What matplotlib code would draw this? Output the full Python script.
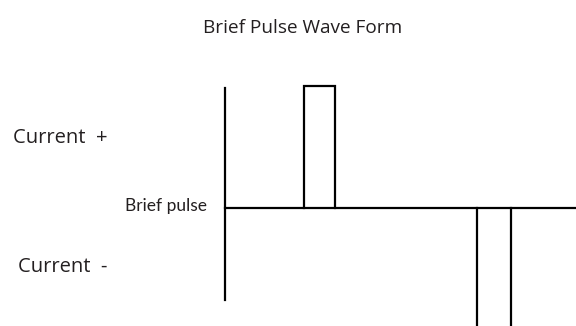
import matplotlib
matplotlib.use("Agg")
import matplotlib.pyplot as plt

plt.rcParams['font.family'] = ['Open Sans', 'DejaVu Sans']

# waveform: baseline with one positive and one negative brief pulse
pulse_starts = [2.47, 7.88]
pulse_widths = [0.97, 1.06]
pulse_levels = [1.0, -1.0]
baseline = 0.0
t_end = 11.0

fig = plt.figure(figsize=(5.76, 3.26), dpi=100)
ax = fig.add_axes([0, 0, 1, 1])
ax.set_xlim(-7.03, 10.97)
ax.set_ylim(-0.967, 1.705)
ax.axis('off')

ink = '#231f20'
# baseline runs straight through the pulses
ax.plot([0, t_end], [baseline, baseline], color='black', lw=1.6)
for s, w, lv in zip(pulse_starts, pulse_widths, pulse_levels):
    ax.plot([s, s, s + w, s + w], [baseline, lv, lv, baseline],
            color='black', lw=1.6, solid_joinstyle='miter')
# current axis
ax.plot([0, 0], [-0.754, 0.984], color='black', lw=1.6)

ax.text(0.525, 0.915, 'Brief Pulse Wave Form', transform=ax.transAxes,
        ha='center', va='center', fontsize=13.7, color=ink)
ax.text(-3.68, 0.575, 'Current  +', ha='right', va='center', fontsize=14.5, color=ink)
ax.text(-3.66, -0.485, 'Current  -', ha='right', va='center', fontsize=14.5, color=ink)
ax.text(-0.55, 0.02, 'Brief pulse', ha='right', va='center', fontsize=12.5, color=ink,
        family=['Lato', 'DejaVu Sans'])

fig.savefig('out.png', dpi=100, facecolor='white')
